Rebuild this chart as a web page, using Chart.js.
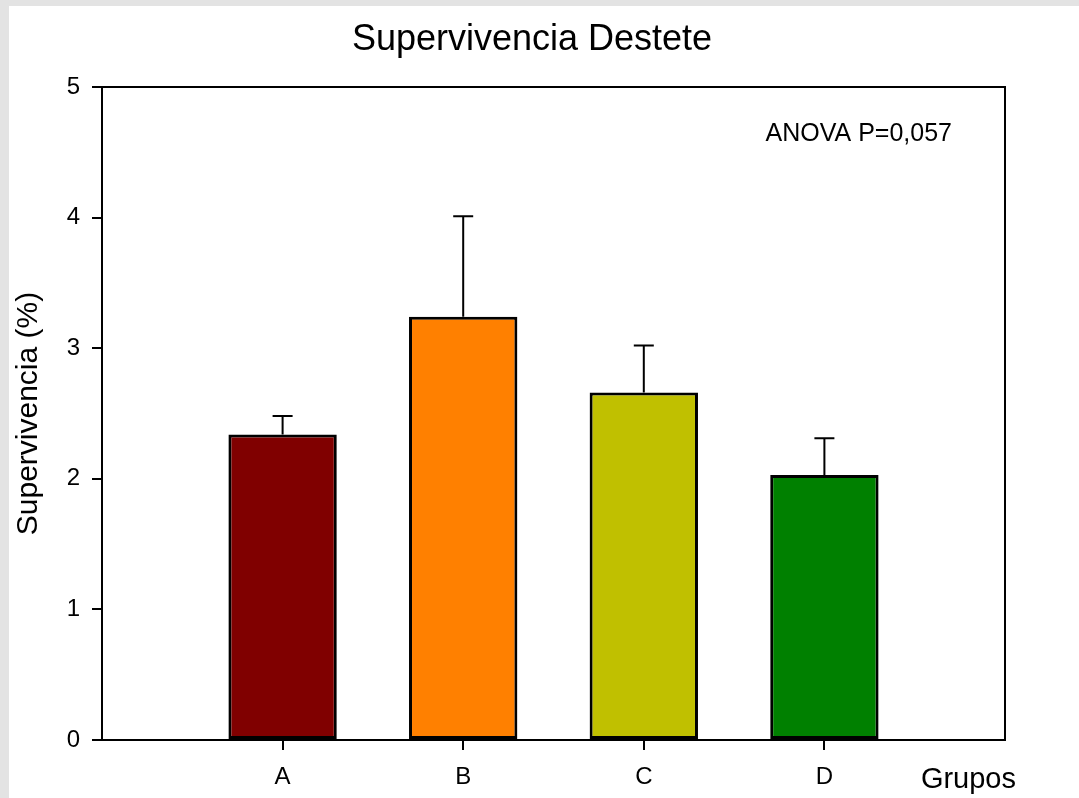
<!DOCTYPE html>
<html>
<head>
<meta charset="utf-8">
<title>Supervivencia Destete</title>
<script src="https://cdn.jsdelivr.net/npm/chart.js@4/dist/chart.umd.min.js"></script>
<style>
  html, body { margin: 0; padding: 0; background: #e3e3e3; width: 1079px; height: 798px; overflow: hidden; }
  #frame { position: absolute; left: 9px; top: 6px; width: 1070px; height: 792px; background: #ffffff; }
  canvas { display: block; }
</style>
</head>
<body>
<div id="frame"><canvas id="chart" width="1070" height="792"></canvas></div>
<script>
// Groups and their positions on the x axis
const groups = ['A', 'B', 'C', 'D'];
const groupPos = [1, 2, 3, 4];
// Mean survival (%) and its standard error for each group
const survival = [2.34, 3.24, 2.66, 2.03];
const sem = [0.14, 0.77, 0.36, 0.28];
const barColors = ['#800000', '#ff8000', '#c0c000', '#008000'];
// Y axis range and step
const yMin = 0, yMax = 5, yStep = 1;

const titleText = 'Supervivencia Destete';
const yTitleText = 'Supervivencia (%)';
const xTitleText = 'Grupos';
const anovaText = 'ANOVA P=0,057';

const FONT = "'Liberation Sans', Arial, sans-serif";

// Error bars (upper only), plot frame and free text
const decorations = {
  id: 'decorations',
  afterDatasetsDraw(chart) {
    const { ctx, chartArea: a, scales: { y } } = chart;
    const meta = chart.getDatasetMeta(0);
    ctx.save();
    ctx.strokeStyle = '#000';
    ctx.lineWidth = 2;
    meta.data.forEach((bar, i) => {
      const yTop = y.getPixelForValue(survival[i] + sem[i]);
      ctx.beginPath();
      ctx.moveTo(bar.x, bar.y);
      ctx.lineTo(bar.x, yTop);
      ctx.moveTo(bar.x - 10, yTop);
      ctx.lineTo(bar.x + 10, yTop);
      ctx.stroke();
    });
    ctx.strokeRect(a.left, a.top, a.right - a.left, a.bottom - a.top);

    ctx.fillStyle = '#000';
    ctx.textBaseline = 'middle';

    ctx.font = '36px ' + FONT;
    ctx.textAlign = 'center';
    ctx.fillText(titleText, chart.width / 2 - 12, 34);

    ctx.font = '25px ' + FONT;
    ctx.textAlign = 'right';
    ctx.fillText(anovaText, a.right - 53, a.top + 47);

    ctx.font = '29px ' + FONT;
    ctx.textAlign = 'right';
    ctx.fillText(xTitleText, a.right + 11, a.bottom + 40);
    ctx.restore();
  }
};

new Chart(document.getElementById('chart'), {
  type: 'bar',
  data: {
    datasets: [{
      data: groupPos.map((x, i) => ({ x, y: survival[i] })),
      backgroundColor: barColors,
      borderColor: '#000',
      borderWidth: 3,
      borderSkipped: false,
      categoryPercentage: 1,
      barPercentage: 0.6
    }]
  },
  options: {
    responsive: false,
    animation: false,
    devicePixelRatio: 1,
    layout: { padding: { top: 81, right: 74, left: 0, bottom: 0 } },
    plugins: {
      legend: { display: false },
      title: { display: false },
      tooltip: { enabled: false }
    },
    scales: {
      x: {
        type: 'linear',
        min: 0,
        max: 5,
        offset: false,
        afterBuildTicks: (s) => { s.ticks = groupPos.map(v => ({ value: v })); },
        afterFit: (s) => { s.height = 58; },
        ticks: {
          color: '#000',
          font: { family: FONT, size: 24 },
          padding: 13,
          maxRotation: 0,
          autoSkip: false,
          callback: (v) => groups[groupPos.indexOf(v)]
        },
        grid: { display: true, offset: false, drawOnChartArea: false, drawTicks: true, tickLength: 10, color: '#000', lineWidth: 2 },
        border: { display: false }
      },
      y: {
        min: yMin,
        max: yMax,
        afterFit: (s) => { s.width = 93; },
        ticks: {
          stepSize: yStep,
          color: '#000',
          font: { family: FONT, size: 24 },
          padding: 12
        },
        grid: { display: true, offset: false, drawOnChartArea: false, drawTicks: true, tickLength: 10, color: '#000', lineWidth: 2 },
        border: { display: false },
        title: {
          display: true,
          text: yTitleText,
          color: '#000',
          font: { family: FONT, size: 30 },
          padding: { top: 2, bottom: 0 }
        }
      }
    }
  },
  plugins: [decorations]
});
</script>
</body>
</html>
